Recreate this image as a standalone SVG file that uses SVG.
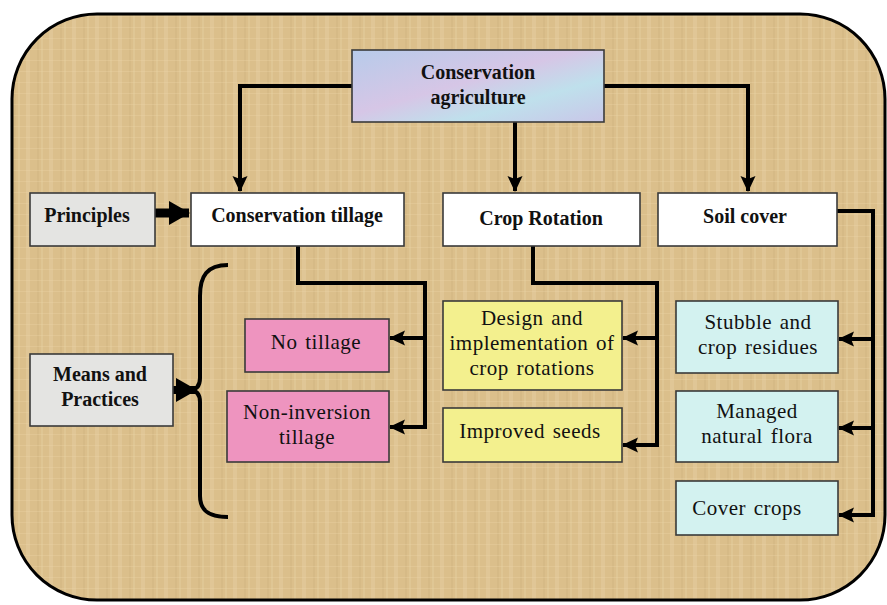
<svg xmlns="http://www.w3.org/2000/svg" width="887" height="605" viewBox="0 0 887 605">
<defs>
<style>
.box{stroke:#3a3a3a;stroke-width:1.6}
.gray{fill:#e4e4e2}
.white{fill:#ffffff}
.pink{fill:#ee94bf}
.yellow{fill:#f3f08e}
.cyan{fill:#d3f2f0}
.b{font-family:"Liberation Serif","Times New Roman",serif;font-weight:bold;font-size:20px;fill:#111;text-anchor:middle}
.r{font-family:"Liberation Serif","Times New Roman",serif;font-size:21px;fill:#111;text-anchor:middle;letter-spacing:0.5px;word-spacing:2px}
.ln{fill:none;stroke:#000;stroke-width:4;stroke-linejoin:miter}
</style>
<marker id="ah" markerUnits="userSpaceOnUse" markerWidth="18" markerHeight="18" refX="15" refY="9" orient="auto">
<path d="M0,1.5 L16,9 L0,16.5 L3,9 z" fill="#000"/>
</marker>
<marker id="big" markerUnits="userSpaceOnUse" markerWidth="22" markerHeight="24" refX="20" refY="12" orient="auto">
<path d="M0,0 L21,12 L0,24 z" fill="#000"/>
</marker>
<linearGradient id="ca" x1="0" y1="0" x2="1" y2="1">
<stop offset="0" stop-color="#b7cbea"/>
<stop offset="0.45" stop-color="#d6c6e6"/>
<stop offset="0.7" stop-color="#bfe0ec"/>
<stop offset="1" stop-color="#c9c6e8"/>
</linearGradient>
<pattern id="tex" width="23" height="11" patternUnits="userSpaceOnUse">
<rect width="23" height="11" fill="#dbbf8b"/>
<rect x="3" width="4" height="11" fill="#e4cc9e" opacity="0.55"/>
<rect x="14" width="2" height="11" fill="#c8aa77" opacity="0.25"/>
<rect x="18" width="2" height="11" fill="#e6cfa3" opacity="0.4"/>
<rect y="5" width="23" height="1" fill="#e9d2a6" opacity="0.35"/>
</pattern>
</defs>
<rect width="887" height="605" fill="#ffffff"/>
<g id="frame">
<rect x="12" y="14" width="873" height="586" rx="85" ry="85" fill="url(#tex)" stroke="#000" stroke-width="3"/>
</g>
<g id="connectors">
<path class="ln" d="M352,86 H240 V191" marker-end="url(#ah)"/>
<path class="ln" d="M515,122 V191" marker-end="url(#ah)"/>
<path class="ln" d="M604,86 H748 V191" marker-end="url(#ah)"/>
<path d="M155,213 H189" fill="none" stroke="#000" stroke-width="9" marker-end="url(#big)"/>
<path class="ln" d="M298,246 V283 H425 V427 H390" marker-end="url(#ah)"/>
<path class="ln" d="M425,338 H390" marker-end="url(#ah)"/>
<path class="ln" d="M533,246 V283 H657 V445 H623" marker-end="url(#ah)"/>
<path class="ln" d="M657,338 H623" marker-end="url(#ah)"/>
<path class="ln" d="M837,211 H873 V515 H839" marker-end="url(#ah)"/>
<path class="ln" d="M873,339 H839" marker-end="url(#ah)"/>
<path class="ln" d="M873,428 H839" marker-end="url(#ah)"/>
<path d="M173,390 H196" fill="none" stroke="#000" stroke-width="8" marker-end="url(#big)"/>
<path class="ln" d="M228,265 C207,265 200,276 200,296 L200,378 C200,386 196,390 189,390 C196,390 200,394 200,402 L200,496 C200,510 208,517 228,517"/>
</g>
<g id="n-ca">
<rect class="box" x="352" y="50" width="252" height="72" fill="url(#ca)"/>
<text class="b" x="478" y="79">Conservation</text>
<text class="b" x="478" y="104">agriculture</text>
</g>
<g id="n-principles">
<rect class="box gray" x="30" y="193" width="125" height="53"/>
<text class="b" x="87" y="222">Principles</text>
</g>
<g id="n-ct">
<rect class="box white" x="191" y="193" width="213" height="53"/>
<text class="b" x="297" y="222">Conservation tillage</text>
</g>
<g id="n-cr">
<rect class="box white" x="443" y="193" width="197" height="53"/>
<text class="b" x="541" y="225">Crop Rotation</text>
</g>
<g id="n-sc">
<rect class="box white" x="658" y="193" width="179" height="53"/>
<text class="b" x="745" y="223">Soil cover</text>
</g>
<g id="n-means">
<rect class="box gray" x="30" y="354" width="143" height="72"/>
<text class="b" x="100" y="381">Means and</text>
<text class="b" x="100" y="406">Practices</text>
</g>
<g id="n-notillage">
<rect class="box pink" x="245" y="319" width="144" height="53"/>
<text class="r" x="316" y="349">No tillage</text>
</g>
<g id="n-noninv">
<rect class="box pink" x="227" y="391" width="162" height="71"/>
<text class="r" x="307" y="419">Non-inversion</text>
<text class="r" x="307" y="444">tillage</text>
</g>
<g id="n-design">
<rect class="box yellow" x="443" y="301" width="179" height="89"/>
<text class="r" x="532" y="325">Design and</text>
<text class="r" x="532" y="350">implementation of</text>
<text class="r" x="532" y="375">crop rotations</text>
</g>
<g id="n-seeds">
<rect class="box yellow" x="443" y="408" width="179" height="54"/>
<text class="r" x="530" y="438">Improved seeds</text>
</g>
<g id="n-stubble">
<rect class="box cyan" x="676" y="301" width="162" height="72"/>
<text class="r" x="758" y="329">Stubble and</text>
<text class="r" x="758" y="354">crop residues</text>
</g>
<g id="n-managed">
<rect class="box cyan" x="676" y="391" width="162" height="71"/>
<text class="r" x="757" y="418">Managed</text>
<text class="r" x="757" y="443">natural flora</text>
</g>
<g id="n-cover">
<rect class="box cyan" x="676" y="481" width="162" height="54"/>
<text class="r" x="747" y="515">Cover crops</text>
</g>
</svg>
